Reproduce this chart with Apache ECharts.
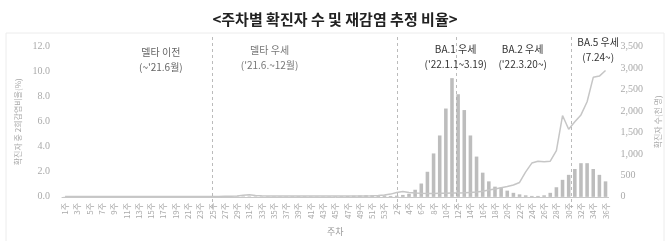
<!DOCTYPE html>
<html>
<head>
<meta charset="utf-8">
<script src="https://cdn.jsdelivr.net/npm/echarts@6/dist/echarts.min.js"></script>
<style>html,body{margin:0;padding:0;background:#fff;}#c{width:670px;height:241px;}</style>
</head>
<body>
<div id="c"></div>
<script>
// x-axis categories: 2021 weeks 1-53, 2022 weeks 1-36
var categories = [
 '1주','2주','3주','4주','5주','6주','7주','8주','9주','10주','11주','12주','13주','14주','15주','16주','17주','18주','19주','20주',
 '21주','22주','23주','24주','25주','26주','27주','28주','29주','30주','31주','32주','33주','34주','35주','36주','37주','38주','39주','40주',
 '41주','42주','43주','44주','45주','46주','47주','48주','49주','50주','51주','52주','53주',
 '1주','2주','3주','4주','5주','6주','7주','8주','9주','10주','11주','12주','13주','14주','15주','16주','17주','18주','19주','20주',
 '21주','22주','23주','24주','25주','26주','27주','28주','29주','30주','31주','32주','33주','34주','35주','36주'
];
// weekly confirmed cases (thousand persons), right axis
var confirmed = [
 4,4,3,3,3,3,3,3,3,3,3,3,3,4,4,4,4,4,4,4,
 4,4,4,4,4,5,6,9,10,11,11,11,11,10,11,11,12,14,16,14,
 12,10,10,11,13,16,20,26,32,38,40,36,32,
 22,28,45,72,166,311,585,1012,1431,2059,2767,2392,2023,1431,939,564,361,238,217,145,
 94,58,36,22,22,36,94,224,397,513,650,785,785,650,513,361
];
// share of reinfections among confirmed cases (%), left axis
var reinfection = [
 0.03,0.03,0.03,0.03,0.03,0.03,0.03,0.03,0.03,0.03,0.03,0.03,0.03,0.03,0.03,0.03,0.03,0.03,0.03,0.03,
 0.03,0.03,0.03,0.03,0.03,0.03,0.04,0.05,0.07,0.12,0.17,0.11,0.08,0.07,0.07,0.07,0.07,0.07,0.07,0.07,
 0.07,0.07,0.07,0.07,0.07,0.07,0.07,0.07,0.07,0.07,0.08,0.1,0.14,
 0.22,0.35,0.42,0.35,0.3,0.28,0.27,0.27,0.28,0.28,0.3,0.3,0.32,0.35,0.38,0.45,0.55,0.62,0.72,0.82,
 0.95,1.15,2.0,2.7,2.85,2.8,2.85,3.7,6.5,5.4,6.0,6.55,7.6,9.55,9.65,10.1
];
var leftTicks = [0, 12, 2];      // min, max, interval (%)
var rightTicks = [0, 3500, 500]; // min, max, interval (thousand)
// dominant-variant boundaries (position in week index units)
var boundaries = [23.9, 54.1, 63.6, 82.4];
// period annotations
var periodNames = ['델타 이전', '델타 우세', 'BA.1 우세', 'BA.2 우세', 'BA.5 우세'];
var periodDates = ["(~'21.6월)", "('21.6.~12월)", "('22.1.1~3.19)", "('22.3.20~)", '(7.24~)'];
var periodX = [15.6, 33.3, 63.6, 74.5, 86.8];
var periodY = [11.0, 11.1, 11.18, 11.18, 11.74];
var periodColor = ['#666', '#777', '#333', '#333', '#333'];

var CJK = '"Noto Sans CJK KR", "Noto Sans", sans-serif';
var NUM = '"Liberation Serif", "DejaVu Serif", serif';

var chart = echarts.init(document.getElementById('c'), null, {renderer: 'canvas'});

var markLineData = boundaries.map(function (b) { return {xAxis: b}; });
var markPointData = periodNames.map(function (n, i) {
  return {
    coord: [periodX[i], periodY[i]],
    label: {formatter: n + '\n' + periodDates[i], color: periodColor[i]}
  };
});

chart.setOption({
  animation: false,
  title: {
    text: '<주차별 확진자 수 및 재감염 추정 비율>',
    left: 'center', top: 7,
    textStyle: {fontFamily: CJK, fontSize: 15, fontWeight: 'bold', color: '#222'}
  },
  graphic: [{
    type: 'rect', silent: true, z: -1,
    shape: {x: 6, y: 33, width: 658, height: 230},
    style: {fill: null, stroke: '#ececec', lineWidth: 1}
  }],
  grid: [
    {left: 62, right: 61, top: 46.7, bottom: 33},
    {left: 62, right: 61, top: 35, bottom: 33}
  ],
  xAxis: [{
    type: 'category',
    gridIndex: 0,
    data: categories,
    boundaryGap: true,
    name: '주차',
    nameLocation: 'middle',
    nameGap: 27,
    nameTextStyle: {fontFamily: CJK, fontSize: 9, color: '#999'},
    axisLine: {lineStyle: {color: '#c8c8c8', width: 1}},
    axisTick: {show: false},
    axisLabel: {interval: 1, rotate: 90, fontFamily: CJK, fontSize: 8, color: '#aaa', margin: 6}
  }, {
    type: 'value', gridIndex: 0, show: false, min: -0.5, max: 88.5
  }, {
    type: 'value', gridIndex: 1, show: false, min: -0.5, max: 88.5
  }],
  yAxis: [{
    type: 'value',
    gridIndex: 0,
    min: leftTicks[0], max: leftTicks[1], interval: leftTicks[2],
    name: '확진자 중 2회감염비율(%)',
    nameLocation: 'middle', nameGap: 40,
    nameTextStyle: {fontFamily: CJK, fontSize: 8, color: '#aaa'},
    axisLine: {show: false}, axisTick: {show: false}, splitLine: {show: false},
    axisLabel: {margin: 12, fontFamily: NUM, fontSize: 10, color: '#aaa',
      formatter: function (v) { return v.toFixed(1); }}
  }, {
    type: 'value',
    gridIndex: 0,
    min: rightTicks[0], max: rightTicks[1], interval: rightTicks[2],
    name: '확진자 수(천 명)',
    nameLocation: 'middle', nameGap: 37,
    nameTextStyle: {fontFamily: CJK, fontSize: 8, color: '#aaa'},
    axisLine: {show: false}, axisTick: {show: false}, splitLine: {show: false},
    axisLabel: {margin: 12, fontFamily: NUM, fontSize: 10, color: '#aaa',
      formatter: function (v) { return v.toLocaleString('en-US'); }}
  }, {
    type: 'value', gridIndex: 1, show: false, min: 0, max: 1
  }],
  series: [{
    name: '확진자 수',
    type: 'bar',
    xAxisIndex: 0, yAxisIndex: 1,
    data: confirmed,
    barWidth: '58%',
    itemStyle: {color: '#bdbdbd'}
  }, {
    name: '재감염 비율',
    type: 'line',
    xAxisIndex: 0, yAxisIndex: 0,
    data: reinfection,
    symbol: 'none',
    lineStyle: {color: '#c6c6c6', width: 1.5},
    z: 3
  }, {
    name: 'periodLabels',
    type: 'line',
    xAxisIndex: 1, yAxisIndex: 0,
    data: [],
    markPoint: {
      silent: true, symbol: 'circle', symbolSize: 0,
      label: {show: true, position: 'inside', fontFamily: CJK, fontSize: 10, lineHeight: 15, align: 'center'},
      data: markPointData
    }
  }, {
    name: 'periodBounds',
    type: 'line',
    xAxisIndex: 2, yAxisIndex: 2,
    data: [],
    markLine: {
      silent: true, symbol: 'none',
      label: {show: false},
      lineStyle: {color: '#aaaaaa', type: [3, 3], width: 0.8},
      data: markLineData
    }
  }]
});
</script>
</body>
</html>
